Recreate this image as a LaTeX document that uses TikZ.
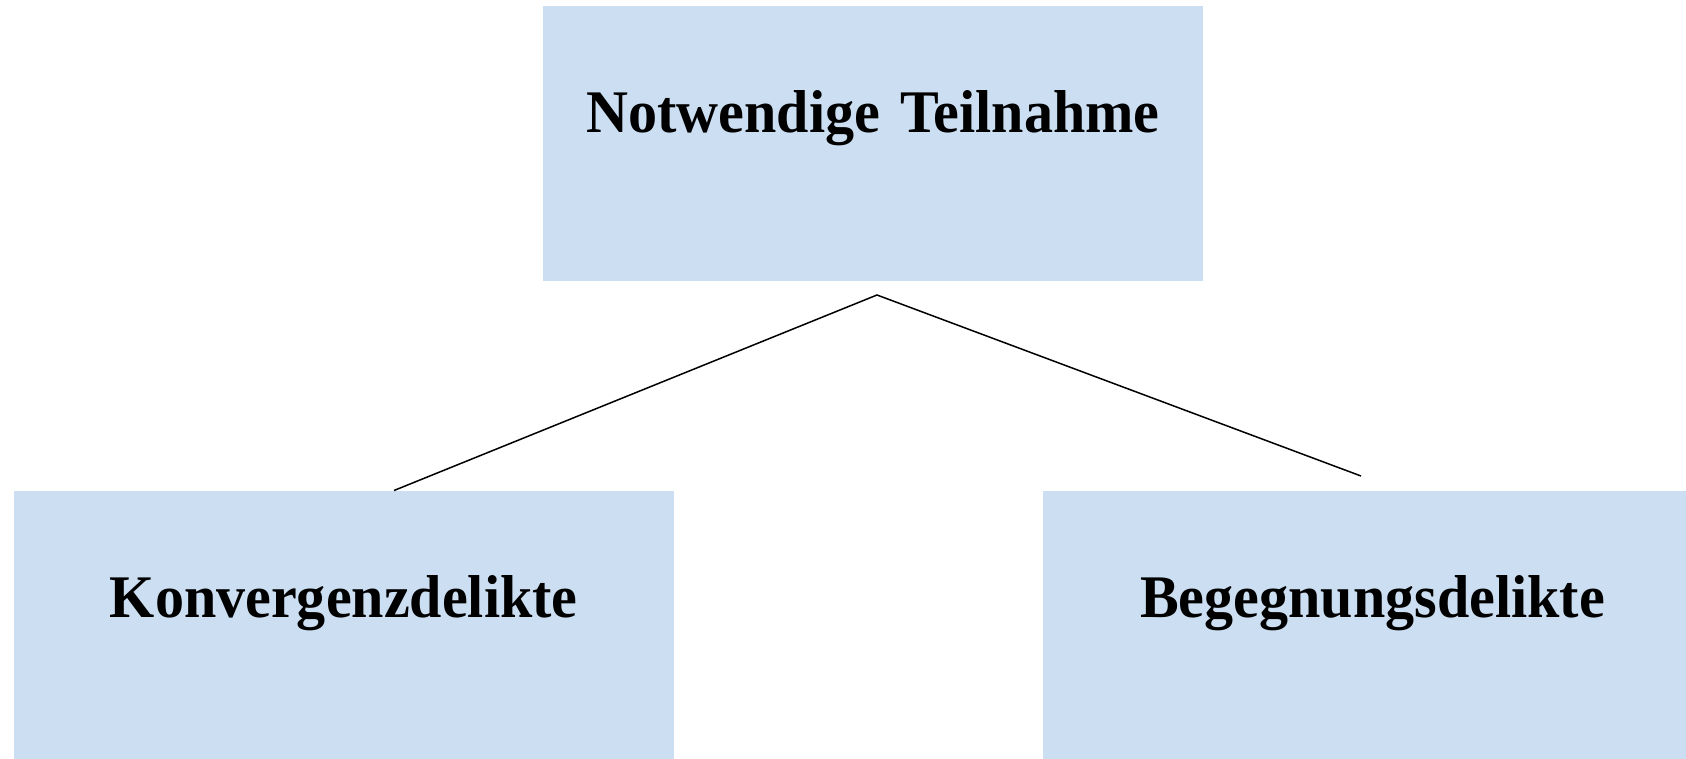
\documentclass[tikz,border=0pt]{standalone}
\usepackage{fontspec}
\setmainfont{Liberation Serif}
\newfontfamily\boxfont[FakeStretch=0.96]{Liberation Serif}
\definecolor{boxblue}{RGB}{204,222,241}
\begin{document}
\begin{tikzpicture}[x=1pt,y=-1pt,
  box/.style={rectangle, fill=boxblue, draw=none, inner sep=0pt,
    text width=660pt, align=center, text height=126.5pt, text depth=148pt,
    font=\boxfont\fontsize{60.5}{70}\selectfont\bfseries},
  conn/.style={draw=black, line width=1.5pt}]
\useasboundingbox (0,0) rectangle (1686,759);
\begin{scope}
\clip (0,0) rectangle (1686,759);
\node[box] (top) at (873,143.75) {Notwendige Teilnahme};
\node[box] (left) at (343.75,627.75) {Konvergenzdelikte};
\node[box] (right) at (1372.5,627.75) {Begegnungsdelikte};
\end{scope}
\coordinate (apex) at (877,295);
\coordinate (lend) at (394,490.5);
\coordinate (rend) at (1361,476);
\draw[conn] (lend) -- (apex) -- (rend);
\end{tikzpicture}
\end{document}
